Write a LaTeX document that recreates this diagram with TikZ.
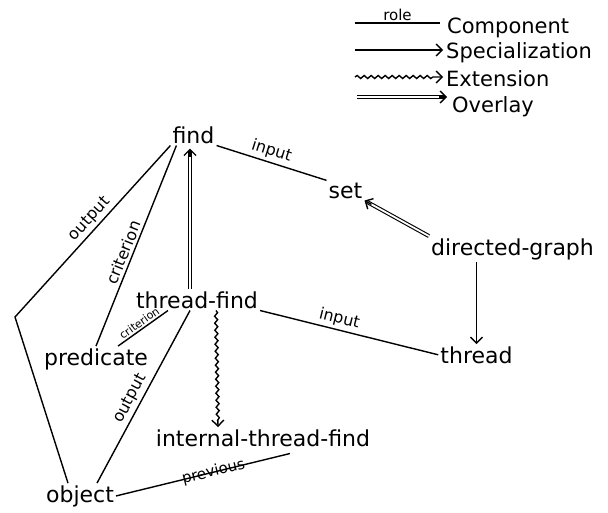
\documentclass[tikz,border=0pt]{standalone}
\usepackage{fontspec}
\setmainfont{DejaVu Sans}
\usetikzlibrary{arrows.meta,decorations.pathmorphing,calc}
\tikzset{
  nd/.style={font=\fontsize{22}{26}\selectfont, anchor=base, inner sep=2pt},
  leg/.style={font=\fontsize{21}{24}\selectfont, anchor=base west, inner sep=0pt},
  lbl/.style={font=\fontsize{16}{18}\selectfont, sloped, above, inner sep=2.5pt},
  slbl/.style={font=\fontsize{11}{13}\selectfont, sloped, above, inner sep=1.5pt},
  conn/.style={line width=1.4pt},
  barb/.style={-{Straight Barb[length=6pt,width=12pt]}},
  spec/.style={conn, barb},
  ext/.style={conn, barb, decorate, decoration={snake, amplitude=1.5pt, segment length=7pt, post length=7pt}},
  ovl/.style={line width=1.1pt, double, double distance=1.8pt, shorten >=2.5pt},
  ovltip/.style={conn, barb},
}
\begin{document}
\begin{tikzpicture}[x=1pt,y=-1pt]
\useasboundingbox (0,0) rectangle (608,512);

% nodes
\node[nd] (find) at (193.5,143) {find};
\node[nd] (set) at (345.5,198) {set};
\node[nd] (dg) at (512.5,255) {directed-graph};
\node[nd] (tf) at (197,308) {thread-find};
\node[nd] (thread) at (476.5,363) {thread};
\node[nd] (pred) at (96,365) {predicate};
\node[nd] (itf) at (263,446) {internal-thread-find};
\node[nd] (obj) at (80,502) {object};

\coordinate (bend) at (15,317);

% components
\draw[conn] (find.south west) -- node[lbl, pos=0.47] {output} (bend) -- ([xshift=-12pt]obj.north);
\draw[conn] ([xshift=6pt]find.south west) -- node[lbl, pos=0.55] {criterion} (pred.north);
\draw[conn] (find.south east) -- node[lbl, pos=0.47] {input} (set.north west);
\draw[conn] (tf.south east) -- node[lbl, pos=0.43] {input} (thread.west);
\draw[conn] ([xshift=-29pt]tf.south) -- node[slbl, pos=0.5] {criterion} ([xshift=22pt]pred.north);
\draw[conn] ([xshift=-7pt]tf.south) -- node[lbl, pos=0.54] {output} ([xshift=17pt]obj.north);
\draw[conn] (obj.east) -- node[font=\fontsize{15}{17}\selectfont, sloped, pos=0.56, inner sep=0pt] {previous} ([xshift=27pt,yshift=-5pt]itf.south);

% specialization
\draw[spec] (dg.south -| thread.north) -- (thread.north);

% extension
\draw[ext] ([xshift=19pt]tf.south) -- ([xshift=-45pt]itf.north);

% overlays
\coordinate (o1a) at ([xshift=-7pt]tf.north);
\coordinate (o1b) at ([xshift=-3.5pt,yshift=-3pt]find.south);
\draw[ovl] (o1a) -- (o1b);
\draw[ovltip] ($(o1b)!8pt!(o1a)$) -- (o1b);
\coordinate (o2a) at (dg.north west);
\coordinate (o2b) at (set.south east);
\draw[ovl] (o2a) -- (o2b);
\draw[ovltip] ($(o2b)!8pt!(o2a)$) -- (o2b);

% legend
\node[leg] (lcomp) at (447,33) {Component};
\node[leg] (lspec) at (446,58) {Specialization};
\node[leg] (lext) at (446,86) {Extension};
\node[leg] (lovl) at (452,112) {Overlay};
\coordinate (c1a) at (355,23);
\coordinate (c1b) at (440,23);
\coordinate (c2a) at (355,50);
\coordinate (c2b) at (443,50);
\coordinate (c3a) at (355,77);
\coordinate (c3b) at (443,77);
\coordinate (c4a) at (357,97);
\coordinate (c4b) at (447,97);
\draw[conn] (c1a) -- node[font=\fontsize{15}{17}\selectfont, above, inner sep=1.5pt] {role} (c1b);
\draw[spec] (c2a) -- (c2b);
\draw[ext] (c3a) -- (c3b);
\draw[ovl] (c4a) -- (c4b);
\draw[ovltip] ($(c4b)!8pt!(c4a)$) -- (c4b);
\end{tikzpicture}
\end{document}
